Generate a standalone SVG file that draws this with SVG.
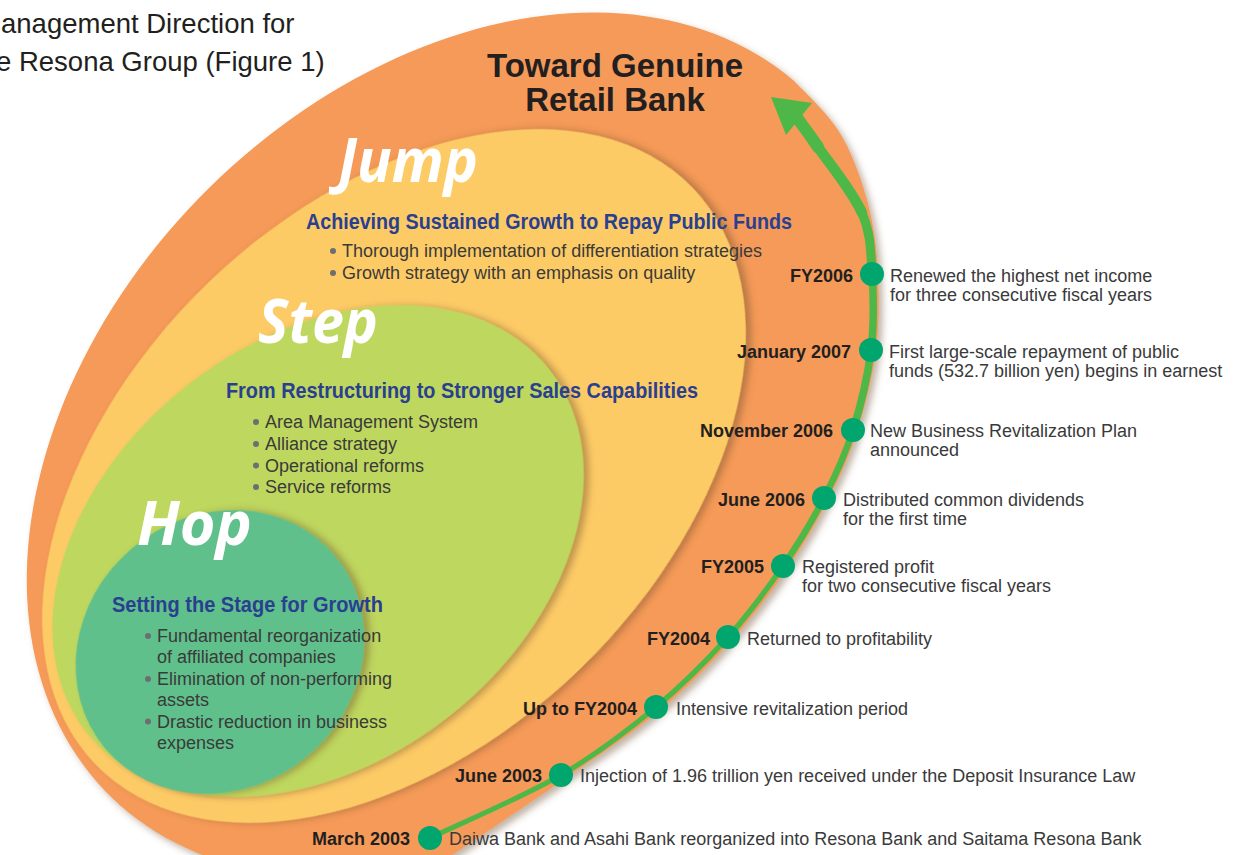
<svg xmlns="http://www.w3.org/2000/svg" width="1236" height="855" viewBox="0 0 1236 855">
<defs>
<filter id="sh" x="-10%" y="-10%" width="125%" height="125%">
<feGaussianBlur in="SourceAlpha" stdDeviation="3.5"/>
<feOffset dx="4" dy="4" result="b"/>
<feFlood flood-color="#6b4a2a" flood-opacity="0.42"/>
<feComposite in2="b" operator="in"/>
<feMerge><feMergeNode/><feMergeNode in="SourceGraphic"/></feMerge>
</filter>
<style>
text{font-family:"Liberation Sans",Arial,sans-serif}
.title{font-size:27.5px;fill:#231f20}
.big{font-size:33px;font-weight:700;fill:#231f20;text-anchor:middle}
.phase{font-family:"Open Sans",sans-serif;font-style:italic;font-weight:700;font-size:60px;fill:#ffffff}
.head{font-size:22px;font-weight:700;fill:#2a3f8f}
.body{font-size:18px;fill:#3a3a3a}
.bul{fill:#6d6e71}
.date{font-size:18px;font-weight:700;fill:#231f20;text-anchor:end}
.desc{font-size:18px;fill:#3a3a3a}
.arc{fill:none;stroke:#4db848;stroke-linecap:round}
.dot{fill:#00a66e}
</style>
</defs>
<rect width="1236" height="855" fill="#ffffff"/>
<g id="title">
<text class="title" x="1" y="33">anagement Direction for</text>
<text class="title" x="-4" y="71">e Resona Group (Figure 1)</text>
</g>
<g id="goal">
<path filter="url(#sh)" fill="#f59a58" d="M448,858 C467.2,845 527.8,804.5 563,780 C598.2,755.5 631,734.2 659,711 C687,687.8 709.7,664.7 731,641 C752.3,617.3 770.8,592.5 787,569 C803.2,545.5 816.3,522.8 828,500 C839.7,477.2 849,456.8 857,432 C865,407.2 872.5,377.5 876,351 C879.5,324.5 879,298.2 878,273 C877,247.8 873.5,223.5 867,200 C860.5,176.5 851,150 838,130 C826,112 807,94 793,80 A495,358 -45 1 0 448,858 Z"/>
<text class="big" x="615" y="77">Toward Genuine</text>
<text class="big" x="615" y="111">Retail Bank</text>
</g>
<g id="jump">
<ellipse filter="url(#sh)" cx="394" cy="476" rx="415" ry="268" fill="#fdcb66" transform="rotate(-44 394 476)"/>
</g>
<g id="step">
<ellipse filter="url(#sh)" cx="318" cy="551" rx="294" ry="211" fill="#bed75f" transform="rotate(-38 318 551)"/>
</g>
<g id="hop">
<ellipse filter="url(#sh)" cx="220" cy="652" rx="150" ry="136" fill="#61c08b" transform="rotate(-40 220 652)"/>
</g>
<g id="jump-text">
<text class="phase" x="338" y="182" textLength="140" lengthAdjust="spacingAndGlyphs">Jump</text>
<text class="head" x="306" y="229" textLength="486" lengthAdjust="spacingAndGlyphs">Achieving Sustained Growth to Repay Public Funds</text>
<circle class="bul" cx="333" cy="251" r="3"/>
<text class="body" x="342" y="257">Thorough implementation of differentiation strategies</text>
<circle class="bul" cx="333" cy="273" r="3"/>
<text class="body" x="342" y="279">Growth strategy with an emphasis on quality</text>
</g>
<g id="step-text">
<text class="phase" x="258" y="343" textLength="120" lengthAdjust="spacingAndGlyphs">Step</text>
<text class="head" x="226" y="398" textLength="472" lengthAdjust="spacingAndGlyphs">From Restructuring to Stronger Sales Capabilities</text>
<circle class="bul" cx="256" cy="422" r="3"/>
<text class="body" x="265" y="428">Area Management System</text>
<circle class="bul" cx="256" cy="444" r="3"/>
<text class="body" x="265" y="450">Alliance strategy</text>
<circle class="bul" cx="256" cy="465.5" r="3"/>
<text class="body" x="265" y="471.5">Operational reforms</text>
<circle class="bul" cx="256" cy="487" r="3"/>
<text class="body" x="265" y="493">Service reforms</text>
</g>
<g id="hop-text">
<text class="phase" x="137" y="545" textLength="115" lengthAdjust="spacingAndGlyphs">Hop</text>
<text class="head" x="112" y="611.5" textLength="271" lengthAdjust="spacingAndGlyphs">Setting the Stage for Growth</text>
<circle class="bul" cx="148" cy="636" r="3"/>
<text class="body" x="157" y="642">Fundamental reorganization</text>
<text class="body" x="157" y="663">of affiliated companies</text>
<circle class="bul" cx="148" cy="679" r="3"/>
<text class="body" x="157" y="685">Elimination of non-performing</text>
<text class="body" x="157" y="706">assets</text>
<circle class="bul" cx="148" cy="721.5" r="3"/>
<text class="body" x="157" y="727.5">Drastic reduction in business</text>
<text class="body" x="157" y="748.5">expenses</text>
</g>
<g id="connectors">
<path class="arc" stroke-width="5" d="M430,838 C451.8,827.5 523.3,796.8 561,775 C598.7,753.2 628.2,730 656,707"/>
<path class="arc" stroke-width="5.5" d="M656,707 C683.8,684 706.8,660.5 728,637 C749.2,613.5 767,589.2 783,566"/>
<path class="arc" stroke-width="6.5" d="M783,566 C799,542.8 812.3,520.7 824,498 C835.7,475.3 845.2,454.7 853,430"/>
<path class="arc" stroke-width="7.5" d="M853,430 C860.8,405.3 867.8,376.2 871,350 C874.2,323.8 873.5,295.8 872,273"/>
<path class="arc" stroke-width="9" d="M872,273 C870.5,250.2 871,234 862,213"/>
<path class="arc" stroke-width="10.5" d="M862,213 C853,192 828.7,162.7 818,147"/>
<path class="arc" stroke-width="12" d="M818,147 C807.3,131.3 801.3,123.7 798,119"/>
<polygon fill="#4db848" points="771,97 812,103 786,135"/>
</g>
<g id="m-2003-03"><circle class="dot" cx="430" cy="838" r="12"/><text class="date" x="410" y="845">March 2003</text><text class="desc" x="449" y="845">Daiwa Bank and Asahi Bank reorganized into Resona Bank and Saitama Resona Bank</text></g>
<g id="m-2003-06"><circle class="dot" cx="561" cy="775" r="12"/><text class="date" x="542" y="782">June 2003</text><text class="desc" x="580" y="782">Injection of 1.96 trillion yen received under the Deposit Insurance Law</text></g>
<g id="m-upto-fy2004"><circle class="dot" cx="656" cy="707" r="12"/><text class="date" x="637" y="715">Up to FY2004</text><text class="desc" x="676" y="715">Intensive revitalization period</text></g>
<g id="m-fy2004"><circle class="dot" cx="728" cy="637" r="12"/><text class="date" x="710" y="645">FY2004</text><text class="desc" x="747" y="645">Returned to profitability</text></g>
<g id="m-fy2005"><circle class="dot" cx="783" cy="566" r="12"/><text class="date" x="764" y="573">FY2005</text><text class="desc" x="802" y="573">Registered profit</text><text class="desc" x="802" y="592">for two consecutive fiscal years</text></g>
<g id="m-2006-06"><circle class="dot" cx="824" cy="498" r="12"/><text class="date" x="805" y="506">June 2006</text><text class="desc" x="843" y="506">Distributed common dividends</text><text class="desc" x="843" y="525">for the first time</text></g>
<g id="m-2006-11"><circle class="dot" cx="853" cy="430" r="12"/><text class="date" x="833" y="437">November 2006</text><text class="desc" x="870" y="437">New Business Revitalization Plan</text><text class="desc" x="870" y="456">announced</text></g>
<g id="m-2007-01"><circle class="dot" cx="871" cy="350" r="12"/><text class="date" x="851" y="358">January 2007</text><text class="desc" x="889" y="358">First large-scale repayment of public</text><text class="desc" x="889" y="377">funds (532.7 billion yen) begins in earnest</text></g>
<g id="m-fy2006"><circle class="dot" cx="872" cy="274" r="12"/><text class="date" x="853" y="282">FY2006</text><text class="desc" x="890" y="282">Renewed the highest net income</text><text class="desc" x="890" y="301">for three consecutive fiscal years</text></g>
</svg>
